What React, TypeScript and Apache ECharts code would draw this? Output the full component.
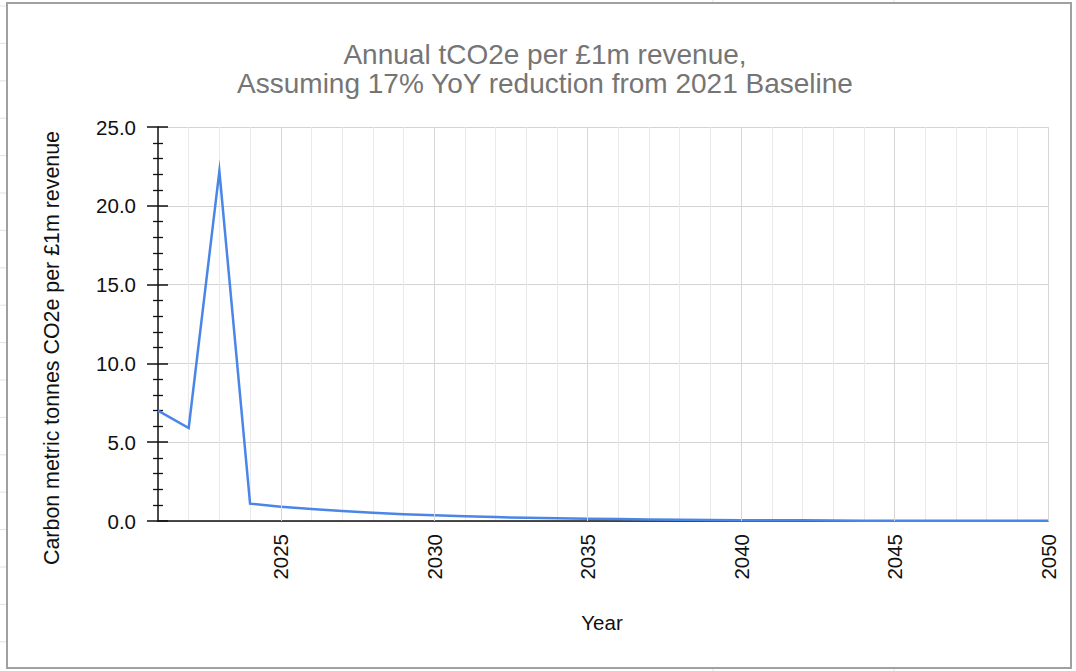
import React, { useEffect, useRef } from "react";
import * as echarts from "echarts";

const titleLines = [
  "Annual tCO2e per £1m revenue,",
  "Assuming 17% YoY reduction from 2021 Baseline",
];
const xAxisName = "Year";
const yAxisName = "Carbon metric tonnes CO2e per £1m revenue";

const years = [
  2021, 2022, 2023, 2024, 2025, 2026, 2027, 2028, 2029, 2030,
  2031, 2032, 2033, 2034, 2035, 2036, 2037, 2038, 2039, 2040,
  2041, 2042, 2043, 2044, 2045, 2046, 2047, 2048, 2049, 2050,
];
const values = [
  7.0, 5.9, 22.2, 1.1, 0.91, 0.76, 0.63, 0.52, 0.43, 0.36,
  0.3, 0.25, 0.2, 0.17, 0.14, 0.12, 0.1, 0.08, 0.07, 0.05,
  0.05, 0.04, 0.03, 0.02, 0.02, 0.02, 0.01, 0.01, 0.01, 0.01,
];
const majorYears = [2025, 2030, 2035, 2040, 2045, 2050];

const FONT = "'Liberation Sans', Arial, Helvetica, sans-serif";

export default function App() {
  const ref = useRef<HTMLDivElement>(null);

  useEffect(() => {
    if (!ref.current) return;
    const chart = echarts.init(ref.current, undefined, { renderer: "svg" });

    const sheetLines: any[] = [];
    for (let i = 0; i < 18; i++) {
      const y = 6 + i * 37.4;
      if (y > 3 && y < 668) {
        sheetLines.push({
          type: "line",
          shape: { x1: 0, y1: y, x2: 6, y2: y },
          style: { stroke: "#e2e2e2", lineWidth: 1 },
          silent: true,
        });
      }
    }
    [713, 894].forEach((x) => {
      sheetLines.push({
        type: "line",
        shape: { x1: x, y1: 0, x2: x, y2: 3 },
        style: { stroke: "#e2e2e2", lineWidth: 1 },
        silent: true,
      });
      sheetLines.push({
        type: "line",
        shape: { x1: x, y1: 669, x2: x, y2: 671 },
        style: { stroke: "#e2e2e2", lineWidth: 1 },
        silent: true,
      });
    });

    const commonY = {
      type: "value",
      min: 0,
      max: 25,
      interval: 5,
    };

    chart.setOption({
      animation: false,
      backgroundColor: "#ffffff",
      grid: { left: 158, right: 28, top: 127, bottom: 150, containLabel: false },
      xAxis: {
        type: "value",
        min: 2021,
        max: 2050,
        interval: 1,
        axisLine: { show: true, onZero: false, lineStyle: { color: "#111", width: 1.5 } },
        axisTick: { show: false },
        axisLabel: {
          rotate: 90,
          margin: 13,
          fontSize: 20.5,
          color: "#111",
          fontFamily: FONT,
          formatter: (v: number) => (v % 5 === 0 ? String(v) : ""),
        },
        splitLine: { show: true, lineStyle: { color: "#e9e9e9", width: 1 } },
      },
      yAxis: [
        {
          ...commonY,
          position: "left",
          axisLine: { show: true, lineStyle: { color: "#111", width: 1.5 } },
          axisTick: { show: true, inside: false, length: 11, lineStyle: { color: "#111", width: 1.5 } },
          minorTick: { show: true, splitNumber: 5, length: 5, lineStyle: { color: "#111", width: 1.3 } },
          axisLabel: {
            margin: 22,
            fontSize: 20.5,
            color: "#111",
            fontFamily: FONT,
            formatter: (v: number) => v.toFixed(1),
          },
          splitLine: { show: true, lineStyle: { color: "#d4d4d4", width: 1 } },
        },
        {
          ...commonY,
          position: "left",
          offset: 0,
          axisLine: { show: false },
          axisTick: { show: true, inside: true, length: 10, lineStyle: { color: "#111", width: 1.5 } },
          minorTick: { show: true, splitNumber: 5, length: 5, lineStyle: { color: "#111", width: 1.3 } },
          axisLabel: { show: false },
          splitLine: { show: false },
        },
      ],
      series: [
        {
          type: "line",
          data: [],
          z: 1,
          silent: true,
          markLine: {
            silent: true,
            symbol: ["none", "none"],
            label: { show: false },
            lineStyle: { color: "#d6d6d6", width: 1, type: "solid" },
            data: majorYears.map((y) => ({ xAxis: y })),
          },
        },
        {
          type: "line",
          z: 3,
          data: years.map((y, i) => [y, values[i]]),
          showSymbol: false,
          symbol: "none",
          lineStyle: { color: "#4a86e8", width: 2.5, join: "miter", miterLimit: 20 },
        },
      ],
      graphic: [
        ...sheetLines,
        {
          type: "rect",
          shape: { x: 7, y: 3, width: 1064, height: 665 },
          style: { fill: "none", stroke: "#a0a0a0", lineWidth: 2 },
          silent: true,
        },
        {
          type: "text",
          x: 545,
          y: 69,
          style: {
            text: titleLines.join("\n"),
            fontSize: 28,
            lineHeight: 28.5,
            fontFamily: FONT,
            fill: "#757575",
            align: "center",
            verticalAlign: "middle",
          },
        },
        {
          type: "text",
          x: 602,
          y: 622,
          style: {
            text: xAxisName,
            fontSize: 20.5,
            fontFamily: FONT,
            fill: "#111",
            align: "center",
            verticalAlign: "middle",
          },
        },
        {
          type: "text",
          x: 52,
          y: 348,
          rotation: Math.PI / 2,
          style: {
            text: yAxisName,
            fontSize: 21.4,
            fontFamily: FONT,
            fill: "#111",
            align: "center",
            verticalAlign: "middle",
          },
        },
      ],
    });

    return () => chart.dispose();
  }, []);

  return (
    <div
      ref={ref}
      style={{ position: "fixed", left: 0, top: 0, width: 1076, height: 671 }}
    />
  );
}
